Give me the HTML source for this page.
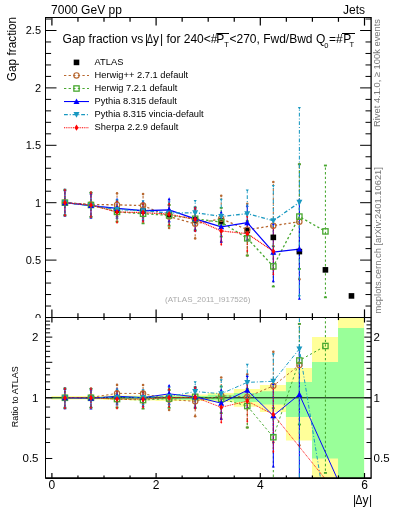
<!DOCTYPE html><html><head><meta charset="utf-8"><style>html,body{margin:0;padding:0;background:#fff;width:393px;height:512px;overflow:hidden}svg{display:block;will-change:transform}text{font-family:"Liberation Sans",sans-serif}</style></head><body>
<svg width="393" height="512" viewBox="0 0 393 512">
<rect width="393" height="512" fill="#fff"/>
<text x="51.1" y="14" font-size="12">7000 GeV pp</text>
<text x="365.1" y="14" font-size="12" text-anchor="end">Jets</text>
<path d="M51.50,396.00 L77.55,396.00 L77.55,396.00 L103.60,396.00 L103.60,395.50 L129.65,395.50 L129.65,395.50 L155.70,395.50 L155.70,395.00 L181.75,395.00 L181.75,394.50 L207.80,394.50 L207.80,393.10 L233.85,393.10 L233.85,389.10 L259.90,389.10 L259.90,385.10 L285.95,385.10 L285.95,368.00 L312.00,368.00 L312.00,337.10 L338.05,337.10 L338.05,317.50 L364.10,317.50 L364.10,479.00 L338.05,479.00 L338.05,479.00 L312.00,479.00 L312.00,440.60 L285.95,440.60 L285.95,412.00 L259.90,412.00 L259.90,406.70 L233.85,406.70 L233.85,402.00 L207.80,402.00 L207.80,401.00 L181.75,401.00 L181.75,401.00 L155.70,401.00 L155.70,400.50 L129.65,400.50 L129.65,400.00 L103.60,400.00 L103.60,399.50 L77.55,399.50 L77.55,399.50 L51.50,399.50Z" fill="#ffff99"/>
<path d="M51.50,397.00 L77.55,397.00 L77.55,397.00 L103.60,397.00 L103.60,396.80 L129.65,396.80 L129.65,396.50 L155.70,396.50 L155.70,396.20 L181.75,396.20 L181.75,396.00 L207.80,396.00 L207.80,394.70 L233.85,394.70 L233.85,393.10 L259.90,393.10 L259.90,391.20 L285.95,391.20 L285.95,382.00 L312.00,382.00 L312.00,362.00 L338.05,362.00 L338.05,327.90 L364.10,327.90 L364.10,479.00 L338.05,479.00 L338.05,458.60 L312.00,458.60 L312.00,417.10 L285.95,417.10 L285.95,404.60 L259.90,404.60 L259.90,401.90 L233.85,401.90 L233.85,400.30 L207.80,400.30 L207.80,399.70 L181.75,399.70 L181.75,399.50 L155.70,399.50 L155.70,399.30 L129.65,399.30 L129.65,399.00 L103.60,399.00 L103.60,398.80 L77.55,398.80 L77.55,398.80 L51.50,398.80Z" fill="#99ff99"/>
<line x1="45.5" y1="397.8" x2="371.1" y2="397.8" stroke="#000" stroke-width="1"/>
<svg x="45.5" y="17.5" width="325.6" height="300.0" viewBox="45.5 17.5 325.6 300.0" overflow="hidden">
<line x1="64.92" y1="190.07" x2="64.92" y2="215.33" stroke="#b86830" stroke-width="1.05" stroke-dasharray="2.3,2.3" stroke-dashoffset="2.5999999999999996"/>
<circle cx="64.92" cy="190.07" r="1.3" fill="#b86830"/>
<circle cx="64.92" cy="215.33" r="1.3" fill="#b86830"/>
<line x1="90.97" y1="192.37" x2="90.97" y2="216.48" stroke="#b86830" stroke-width="1.05" stroke-dasharray="2.3,2.3" stroke-dashoffset="2.5999999999999996"/>
<circle cx="90.97" cy="192.37" r="1.3" fill="#b86830"/>
<circle cx="90.97" cy="216.48" r="1.3" fill="#b86830"/>
<line x1="117.03" y1="193.40" x2="117.03" y2="216.36" stroke="#b86830" stroke-width="1.05" stroke-dasharray="2.3,2.3" stroke-dashoffset="2.5999999999999996"/>
<circle cx="117.03" cy="193.40" r="1.3" fill="#b86830"/>
<circle cx="117.03" cy="216.36" r="1.3" fill="#b86830"/>
<line x1="143.07" y1="194.09" x2="143.07" y2="217.05" stroke="#b86830" stroke-width="1.05" stroke-dasharray="2.3,2.3" stroke-dashoffset="2.5999999999999996"/>
<circle cx="143.07" cy="194.09" r="1.3" fill="#b86830"/>
<circle cx="143.07" cy="217.05" r="1.3" fill="#b86830"/>
<line x1="169.12" y1="205.00" x2="169.12" y2="227.96" stroke="#b86830" stroke-width="1.05" stroke-dasharray="2.3,2.3" stroke-dashoffset="2.5999999999999996"/>
<circle cx="169.12" cy="205.00" r="1.3" fill="#b86830"/>
<circle cx="169.12" cy="227.96" r="1.3" fill="#b86830"/>
<line x1="195.18" y1="209.24" x2="195.18" y2="238.40" stroke="#b86830" stroke-width="1.05" stroke-dasharray="2.3,2.3" stroke-dashoffset="2.5999999999999996"/>
<circle cx="195.18" cy="209.24" r="1.3" fill="#b86830"/>
<circle cx="195.18" cy="238.40" r="1.3" fill="#b86830"/>
<line x1="221.23" y1="195.81" x2="221.23" y2="241.73" stroke="#b86830" stroke-width="1.05" stroke-dasharray="2.3,2.3" stroke-dashoffset="2.5999999999999996"/>
<circle cx="221.23" cy="195.81" r="1.3" fill="#b86830"/>
<circle cx="221.23" cy="241.73" r="1.3" fill="#b86830"/>
<line x1="247.28" y1="203.85" x2="247.28" y2="255.51" stroke="#b86830" stroke-width="1.05" stroke-dasharray="2.3,2.3" stroke-dashoffset="2.5999999999999996"/>
<circle cx="247.28" cy="203.85" r="1.3" fill="#b86830"/>
<circle cx="247.28" cy="255.51" r="1.3" fill="#b86830"/>
<line x1="273.32" y1="182.04" x2="273.32" y2="269.28" stroke="#b86830" stroke-width="1.05" stroke-dasharray="2.3,2.3" stroke-dashoffset="2.5999999999999996"/>
<circle cx="273.32" cy="182.04" r="1.3" fill="#b86830"/>
<circle cx="273.32" cy="269.28" r="1.3" fill="#b86830"/>
<line x1="299.38" y1="164.36" x2="299.38" y2="279.16" stroke="#b86830" stroke-width="1.05" stroke-dasharray="2.3,2.3" stroke-dashoffset="2.5999999999999996"/>
<circle cx="299.38" cy="164.36" r="1.3" fill="#b86830"/>
<circle cx="299.38" cy="279.16" r="1.3" fill="#b86830"/>
<line x1="64.92" y1="190.07" x2="64.92" y2="215.33" stroke="#48a830" stroke-width="1.05" stroke-dasharray="2.3,2.3" stroke-dashoffset="2.5999999999999996"/>
<rect x="63.42" y="189.17" width="3" height="1.8" fill="#48a830"/>
<rect x="63.42" y="214.43" width="3" height="1.8" fill="#48a830"/>
<line x1="90.97" y1="192.94" x2="90.97" y2="217.05" stroke="#48a830" stroke-width="1.05" stroke-dasharray="2.3,2.3" stroke-dashoffset="2.5999999999999996"/>
<rect x="89.47" y="192.04" width="3" height="1.8" fill="#48a830"/>
<rect x="89.47" y="216.15" width="3" height="1.8" fill="#48a830"/>
<line x1="117.03" y1="202.13" x2="117.03" y2="221.64" stroke="#48a830" stroke-width="1.05" stroke-dasharray="2.3,2.3" stroke-dashoffset="2.5999999999999996"/>
<rect x="115.53" y="201.23" width="3" height="1.8" fill="#48a830"/>
<rect x="115.53" y="220.74" width="3" height="1.8" fill="#48a830"/>
<line x1="143.07" y1="204.08" x2="143.07" y2="223.36" stroke="#48a830" stroke-width="1.05" stroke-dasharray="2.3,2.3" stroke-dashoffset="2.5999999999999996"/>
<rect x="141.57" y="203.18" width="3" height="1.8" fill="#48a830"/>
<rect x="141.57" y="222.46" width="3" height="1.8" fill="#48a830"/>
<line x1="169.12" y1="205.00" x2="169.12" y2="225.66" stroke="#48a830" stroke-width="1.05" stroke-dasharray="2.3,2.3" stroke-dashoffset="2.5999999999999996"/>
<rect x="167.62" y="204.10" width="3" height="1.8" fill="#48a830"/>
<rect x="167.62" y="224.76" width="3" height="1.8" fill="#48a830"/>
<line x1="195.18" y1="207.29" x2="195.18" y2="230.25" stroke="#48a830" stroke-width="1.05" stroke-dasharray="2.3,2.3" stroke-dashoffset="2.5999999999999996"/>
<rect x="193.68" y="206.39" width="3" height="1.8" fill="#48a830"/>
<rect x="193.68" y="229.35" width="3" height="1.8" fill="#48a830"/>
<line x1="221.23" y1="207.87" x2="221.23" y2="236.57" stroke="#48a830" stroke-width="1.05" stroke-dasharray="2.3,2.3" stroke-dashoffset="2.5999999999999996"/>
<rect x="219.73" y="206.97" width="3" height="1.8" fill="#48a830"/>
<rect x="219.73" y="235.67" width="3" height="1.8" fill="#48a830"/>
<line x1="247.28" y1="221.07" x2="247.28" y2="255.51" stroke="#48a830" stroke-width="1.05" stroke-dasharray="2.3,2.3" stroke-dashoffset="2.5999999999999996"/>
<rect x="245.78" y="220.17" width="3" height="1.8" fill="#48a830"/>
<rect x="245.78" y="254.61" width="3" height="1.8" fill="#48a830"/>
<line x1="273.32" y1="246.32" x2="273.32" y2="286.50" stroke="#48a830" stroke-width="1.05" stroke-dasharray="2.3,2.3" stroke-dashoffset="2.5999999999999996"/>
<rect x="271.82" y="245.42" width="3" height="1.8" fill="#48a830"/>
<rect x="271.82" y="285.60" width="3" height="1.8" fill="#48a830"/>
<line x1="299.38" y1="164.24" x2="299.38" y2="268.94" stroke="#48a830" stroke-width="1.05" stroke-dasharray="2.3,2.3" stroke-dashoffset="2.5999999999999996"/>
<rect x="297.88" y="163.34" width="3" height="1.8" fill="#48a830"/>
<rect x="297.88" y="268.04" width="3" height="1.8" fill="#48a830"/>
<line x1="325.43" y1="165.50" x2="325.43" y2="297.30" stroke="#48a830" stroke-width="1.05" stroke-dasharray="2.3,2.3" stroke-dashoffset="2.5999999999999996"/>
<rect x="323.93" y="164.60" width="3" height="1.8" fill="#48a830"/>
<rect x="323.93" y="296.40" width="3" height="1.8" fill="#48a830"/>
<line x1="64.92" y1="190.07" x2="64.92" y2="215.33" stroke="#0000ff" stroke-width="1.05"/>
<path d="M64.92,188.52L66.42,191.32L63.42,191.32Z" fill="#0000ff"/>
<path d="M64.92,213.78L66.42,216.58L63.42,216.58Z" fill="#0000ff"/>
<line x1="90.97" y1="193.52" x2="90.97" y2="217.62" stroke="#0000ff" stroke-width="1.05"/>
<path d="M90.97,191.97L92.47,194.77L89.47,194.77Z" fill="#0000ff"/>
<path d="M90.97,216.07L92.47,218.87L89.47,218.87Z" fill="#0000ff"/>
<line x1="117.03" y1="199.26" x2="117.03" y2="217.62" stroke="#0000ff" stroke-width="1.05"/>
<path d="M117.03,197.71L118.53,200.51L115.53,200.51Z" fill="#0000ff"/>
<path d="M117.03,216.07L118.53,218.87L115.53,218.87Z" fill="#0000ff"/>
<line x1="143.07" y1="201.55" x2="143.07" y2="219.92" stroke="#0000ff" stroke-width="1.05"/>
<path d="M143.07,200.00L144.57,202.80L141.57,202.80Z" fill="#0000ff"/>
<path d="M143.07,218.37L144.57,221.17L141.57,221.17Z" fill="#0000ff"/>
<line x1="169.12" y1="198.91" x2="169.12" y2="220.72" stroke="#0000ff" stroke-width="1.05"/>
<path d="M169.12,197.36L170.62,200.16L167.62,200.16Z" fill="#0000ff"/>
<path d="M169.12,219.17L170.62,221.97L167.62,221.97Z" fill="#0000ff"/>
<line x1="195.18" y1="207.29" x2="195.18" y2="230.25" stroke="#0000ff" stroke-width="1.05"/>
<path d="M195.18,205.74L196.68,208.54L193.68,208.54Z" fill="#0000ff"/>
<path d="M195.18,228.70L196.68,231.50L193.68,231.50Z" fill="#0000ff"/>
<line x1="221.23" y1="212.23" x2="221.23" y2="241.39" stroke="#0000ff" stroke-width="1.05"/>
<path d="M221.23,210.68L222.73,213.48L219.73,213.48Z" fill="#0000ff"/>
<path d="M221.23,239.84L222.73,242.64L219.73,242.64Z" fill="#0000ff"/>
<line x1="247.28" y1="205.46" x2="247.28" y2="239.90" stroke="#0000ff" stroke-width="1.05"/>
<path d="M247.28,203.91L248.78,206.71L245.78,206.71Z" fill="#0000ff"/>
<path d="M247.28,238.35L248.78,241.15L245.78,241.15Z" fill="#0000ff"/>
<line x1="273.32" y1="223.48" x2="273.32" y2="280.88" stroke="#0000ff" stroke-width="1.05"/>
<path d="M273.32,221.93L274.82,224.73L271.82,224.73Z" fill="#0000ff"/>
<path d="M273.32,279.33L274.82,282.13L271.82,282.13Z" fill="#0000ff"/>
<line x1="299.38" y1="199.72" x2="299.38" y2="298.44" stroke="#0000ff" stroke-width="1.05"/>
<path d="M299.38,198.17L300.88,200.97L297.88,200.97Z" fill="#0000ff"/>
<path d="M299.38,296.89L300.88,299.69L297.88,299.69Z" fill="#0000ff"/>
<line x1="64.92" y1="190.07" x2="64.92" y2="215.33" stroke="#1898c0" stroke-width="1.05" stroke-dasharray="3.8,1.9,1,1.9" stroke-dashoffset="4.1"/>
<path d="M64.92,191.62L66.42,188.82L63.42,188.82Z" fill="#1898c0"/>
<path d="M64.92,216.88L66.42,214.08L63.42,214.08Z" fill="#1898c0"/>
<line x1="90.97" y1="193.52" x2="90.97" y2="217.62" stroke="#1898c0" stroke-width="1.05" stroke-dasharray="3.8,1.9,1,1.9" stroke-dashoffset="4.1"/>
<path d="M90.97,195.07L92.47,192.27L89.47,192.27Z" fill="#1898c0"/>
<path d="M90.97,219.17L92.47,216.37L89.47,216.37Z" fill="#1898c0"/>
<line x1="117.03" y1="200.40" x2="117.03" y2="218.77" stroke="#1898c0" stroke-width="1.05" stroke-dasharray="3.8,1.9,1,1.9" stroke-dashoffset="4.1"/>
<path d="M117.03,201.95L118.53,199.15L115.53,199.15Z" fill="#1898c0"/>
<path d="M117.03,220.32L118.53,217.52L115.53,217.52Z" fill="#1898c0"/>
<line x1="143.07" y1="201.55" x2="143.07" y2="219.92" stroke="#1898c0" stroke-width="1.05" stroke-dasharray="3.8,1.9,1,1.9" stroke-dashoffset="4.1"/>
<path d="M143.07,203.10L144.57,200.30L141.57,200.30Z" fill="#1898c0"/>
<path d="M143.07,221.47L144.57,218.67L141.57,218.67Z" fill="#1898c0"/>
<line x1="169.12" y1="202.70" x2="169.12" y2="223.36" stroke="#1898c0" stroke-width="1.05" stroke-dasharray="3.8,1.9,1,1.9" stroke-dashoffset="4.1"/>
<path d="M169.12,204.25L170.62,201.45L167.62,201.45Z" fill="#1898c0"/>
<path d="M169.12,224.91L170.62,222.11L167.62,222.11Z" fill="#1898c0"/>
<line x1="195.18" y1="201.21" x2="195.18" y2="224.17" stroke="#1898c0" stroke-width="1.05" stroke-dasharray="3.8,1.9,1,1.9" stroke-dashoffset="4.1"/>
<path d="M195.18,202.76L196.68,199.96L193.68,199.96Z" fill="#1898c0"/>
<path d="M195.18,225.72L196.68,222.92L193.68,222.92Z" fill="#1898c0"/>
<line x1="221.23" y1="199.94" x2="221.23" y2="233.01" stroke="#1898c0" stroke-width="1.05" stroke-dasharray="3.8,1.9,1,1.9" stroke-dashoffset="4.1"/>
<path d="M221.23,201.49L222.73,198.69L219.73,198.69Z" fill="#1898c0"/>
<path d="M221.23,234.56L222.73,231.76L219.73,231.76Z" fill="#1898c0"/>
<line x1="247.28" y1="190.76" x2="247.28" y2="236.68" stroke="#1898c0" stroke-width="1.05" stroke-dasharray="3.8,1.9,1,1.9" stroke-dashoffset="4.1"/>
<path d="M247.28,192.31L248.78,189.51L245.78,189.51Z" fill="#1898c0"/>
<path d="M247.28,238.23L248.78,235.43L245.78,235.43Z" fill="#1898c0"/>
<line x1="273.32" y1="186.28" x2="273.32" y2="255.16" stroke="#1898c0" stroke-width="1.05" stroke-dasharray="3.8,1.9,1,1.9" stroke-dashoffset="4.1"/>
<path d="M273.32,187.83L274.82,185.03L271.82,185.03Z" fill="#1898c0"/>
<path d="M273.32,256.71L274.82,253.91L271.82,253.91Z" fill="#1898c0"/>
<line x1="299.38" y1="108.22" x2="299.38" y2="296.49" stroke="#1898c0" stroke-width="1.05" stroke-dasharray="3.8,1.9,1,1.9" stroke-dashoffset="4.1"/>
<path d="M299.38,109.77L300.88,106.97L297.88,106.97Z" fill="#1898c0"/>
<path d="M299.38,298.04L300.88,295.24L297.88,295.24Z" fill="#1898c0"/>
<line x1="64.92" y1="190.07" x2="64.92" y2="215.33" stroke="#ff0000" stroke-width="1.05" stroke-dasharray="1,0.8" stroke-dashoffset="1.3"/>
<path d="M64.92,188.52L65.92,190.07L64.92,191.62L63.92,190.07Z" fill="#ff0000"/>
<path d="M64.92,213.78L65.92,215.33L64.92,216.88L63.92,215.33Z" fill="#ff0000"/>
<line x1="90.97" y1="192.94" x2="90.97" y2="217.05" stroke="#ff0000" stroke-width="1.05" stroke-dasharray="1,0.8" stroke-dashoffset="1.3"/>
<path d="M90.97,191.39L91.97,192.94L90.97,194.49L89.97,192.94Z" fill="#ff0000"/>
<path d="M90.97,215.50L91.97,217.05L90.97,218.60L89.97,217.05Z" fill="#ff0000"/>
<line x1="117.03" y1="201.67" x2="117.03" y2="222.33" stroke="#ff0000" stroke-width="1.05" stroke-dasharray="1,0.8" stroke-dashoffset="1.3"/>
<path d="M117.03,200.12L118.03,201.67L117.03,203.22L116.03,201.67Z" fill="#ff0000"/>
<path d="M117.03,220.78L118.03,222.33L117.03,223.88L116.03,222.33Z" fill="#ff0000"/>
<line x1="143.07" y1="203.39" x2="143.07" y2="221.76" stroke="#ff0000" stroke-width="1.05" stroke-dasharray="1,0.8" stroke-dashoffset="1.3"/>
<path d="M143.07,201.84L144.07,203.39L143.07,204.94L142.07,203.39Z" fill="#ff0000"/>
<path d="M143.07,220.21L144.07,221.76L143.07,223.31L142.07,221.76Z" fill="#ff0000"/>
<line x1="169.12" y1="203.85" x2="169.12" y2="224.51" stroke="#ff0000" stroke-width="1.05" stroke-dasharray="1,0.8" stroke-dashoffset="1.3"/>
<path d="M169.12,202.30L170.12,203.85L169.12,205.40L168.12,203.85Z" fill="#ff0000"/>
<path d="M169.12,222.96L170.12,224.51L169.12,226.06L168.12,224.51Z" fill="#ff0000"/>
<line x1="195.18" y1="207.98" x2="195.18" y2="230.94" stroke="#ff0000" stroke-width="1.05" stroke-dasharray="1,0.8" stroke-dashoffset="1.3"/>
<path d="M195.18,206.43L196.18,207.98L195.18,209.53L194.18,207.98Z" fill="#ff0000"/>
<path d="M195.18,229.39L196.18,230.94L195.18,232.49L194.18,230.94Z" fill="#ff0000"/>
<line x1="221.23" y1="217.39" x2="221.23" y2="244.49" stroke="#ff0000" stroke-width="1.05" stroke-dasharray="1,0.8" stroke-dashoffset="1.3"/>
<path d="M221.23,215.84L222.23,217.39L221.23,218.94L220.23,217.39Z" fill="#ff0000"/>
<path d="M221.23,242.94L222.23,244.49L221.23,246.04L220.23,244.49Z" fill="#ff0000"/>
<line x1="247.28" y1="216.48" x2="247.28" y2="250.92" stroke="#ff0000" stroke-width="1.05" stroke-dasharray="1,0.8" stroke-dashoffset="1.3"/>
<path d="M247.28,214.93L248.28,216.48L247.28,218.03L246.28,216.48Z" fill="#ff0000"/>
<path d="M247.28,249.37L248.28,250.92L247.28,252.47L246.28,250.92Z" fill="#ff0000"/>
<line x1="273.32" y1="228.30" x2="273.32" y2="274.22" stroke="#ff0000" stroke-width="1.05" stroke-dasharray="1,0.8" stroke-dashoffset="1.3"/>
<path d="M273.32,226.75L274.32,228.30L273.32,229.85L272.32,228.30Z" fill="#ff0000"/>
<path d="M273.32,272.67L274.32,274.22L273.32,275.77L272.32,274.22Z" fill="#ff0000"/>
<path d="M64.92,202.70 L90.97,204.42 L117.03,204.88 L143.07,205.57 L169.12,216.48 L195.18,223.82 L221.23,218.77 L247.28,229.68 L273.32,225.66 L299.38,221.76" fill="none" stroke="#b86830" stroke-width="1.3" stroke-dasharray="2.3,2.3"/>
<path d="M64.92,202.70 L90.97,205.00 L117.03,211.88 L143.07,213.72 L169.12,215.33 L195.18,218.77 L221.23,222.22 L247.28,238.29 L273.32,266.41 L299.38,216.59 L325.43,231.40" fill="none" stroke="#48a830" stroke-width="1.3" stroke-dasharray="2.3,2.3"/>
<path d="M64.92,202.70 L90.97,205.57 L117.03,208.44 L143.07,210.74 L169.12,209.82 L195.18,218.77 L221.23,226.81 L247.28,222.68 L273.32,252.18 L299.38,249.08" fill="none" stroke="#0000ff" stroke-width="1.3"/>
<path d="M64.92,202.70 L90.97,205.57 L117.03,209.59 L143.07,210.74 L169.12,213.03 L195.18,212.69 L221.23,216.48 L247.28,213.72 L273.32,220.72 L299.38,202.36" fill="none" stroke="#1898c0" stroke-width="1.3" stroke-dasharray="3.8,1.9,1,1.9"/>
<path d="M64.92,202.70 L90.97,205.00 L117.03,212.00 L143.07,212.57 L169.12,214.18 L195.18,219.46 L221.23,230.94 L247.28,233.70 L273.32,251.26" fill="none" stroke="#ff0000" stroke-width="1.2" stroke-dasharray="1,0.8"/>
<rect x="62.12" y="199.90" width="5.60" height="5.60" fill="#000"/>
<rect x="88.17" y="202.20" width="5.60" height="5.60" fill="#000"/>
<rect x="114.23" y="207.59" width="5.60" height="5.60" fill="#000"/>
<rect x="140.27" y="208.17" width="5.60" height="5.60" fill="#000"/>
<rect x="166.32" y="211.72" width="5.60" height="5.60" fill="#000"/>
<rect x="192.38" y="217.12" width="5.60" height="5.60" fill="#000"/>
<rect x="218.43" y="218.27" width="5.60" height="5.60" fill="#000"/>
<rect x="244.47" y="227.68" width="5.60" height="5.60" fill="#000"/>
<rect x="270.52" y="234.57" width="5.60" height="5.60" fill="#000"/>
<rect x="296.57" y="248.80" width="5.60" height="5.60" fill="#000"/>
<rect x="322.62" y="267.06" width="5.60" height="5.60" fill="#000"/>
<rect x="348.67" y="293.12" width="5.60" height="5.60" fill="#000"/>
<circle cx="64.92" cy="202.70" r="2.65" fill="none" stroke="#b86830" stroke-width="1.15"/>
<circle cx="90.97" cy="204.42" r="2.65" fill="none" stroke="#b86830" stroke-width="1.15"/>
<circle cx="117.03" cy="204.88" r="2.65" fill="none" stroke="#b86830" stroke-width="1.15"/>
<circle cx="143.07" cy="205.57" r="2.65" fill="none" stroke="#b86830" stroke-width="1.15"/>
<circle cx="169.12" cy="216.48" r="2.65" fill="none" stroke="#b86830" stroke-width="1.15"/>
<circle cx="195.18" cy="223.82" r="2.65" fill="none" stroke="#b86830" stroke-width="1.15"/>
<circle cx="221.23" cy="218.77" r="2.65" fill="none" stroke="#b86830" stroke-width="1.15"/>
<circle cx="247.28" cy="229.68" r="2.65" fill="none" stroke="#b86830" stroke-width="1.15"/>
<circle cx="273.32" cy="225.66" r="2.65" fill="none" stroke="#b86830" stroke-width="1.15"/>
<circle cx="299.38" cy="221.76" r="2.65" fill="none" stroke="#b86830" stroke-width="1.15"/>
<rect x="62.27" y="200.05" width="5.30" height="5.30" fill="none" stroke="#48a830" stroke-width="1.3"/>
<rect x="88.32" y="202.35" width="5.30" height="5.30" fill="none" stroke="#48a830" stroke-width="1.3"/>
<rect x="114.38" y="209.23" width="5.30" height="5.30" fill="none" stroke="#48a830" stroke-width="1.3"/>
<rect x="140.42" y="211.07" width="5.30" height="5.30" fill="none" stroke="#48a830" stroke-width="1.3"/>
<rect x="166.47" y="212.68" width="5.30" height="5.30" fill="none" stroke="#48a830" stroke-width="1.3"/>
<rect x="192.53" y="216.12" width="5.30" height="5.30" fill="none" stroke="#48a830" stroke-width="1.3"/>
<rect x="218.58" y="219.57" width="5.30" height="5.30" fill="none" stroke="#48a830" stroke-width="1.3"/>
<rect x="244.62" y="235.64" width="5.30" height="5.30" fill="none" stroke="#48a830" stroke-width="1.3"/>
<rect x="270.68" y="263.76" width="5.30" height="5.30" fill="none" stroke="#48a830" stroke-width="1.3"/>
<rect x="296.73" y="213.94" width="5.30" height="5.30" fill="none" stroke="#48a830" stroke-width="1.3"/>
<rect x="322.78" y="228.75" width="5.30" height="5.30" fill="none" stroke="#48a830" stroke-width="1.3"/>
<path d="M64.92,199.60L67.92,205.20L61.92,205.20Z" fill="#0000ff"/>
<path d="M90.97,202.47L93.97,208.07L87.97,208.07Z" fill="#0000ff"/>
<path d="M117.03,205.34L120.03,210.94L114.03,210.94Z" fill="#0000ff"/>
<path d="M143.07,207.64L146.07,213.24L140.07,213.24Z" fill="#0000ff"/>
<path d="M169.12,206.72L172.12,212.32L166.12,212.32Z" fill="#0000ff"/>
<path d="M195.18,215.67L198.18,221.27L192.18,221.27Z" fill="#0000ff"/>
<path d="M221.23,223.71L224.23,229.31L218.23,229.31Z" fill="#0000ff"/>
<path d="M247.28,219.58L250.28,225.18L244.28,225.18Z" fill="#0000ff"/>
<path d="M273.32,249.08L276.32,254.68L270.32,254.68Z" fill="#0000ff"/>
<path d="M299.38,245.98L302.38,251.58L296.38,251.58Z" fill="#0000ff"/>
<path d="M64.92,205.80L67.92,200.20L61.92,200.20Z" fill="#1898c0"/>
<path d="M90.97,208.67L93.97,203.07L87.97,203.07Z" fill="#1898c0"/>
<path d="M117.03,212.69L120.03,207.09L114.03,207.09Z" fill="#1898c0"/>
<path d="M143.07,213.84L146.07,208.24L140.07,208.24Z" fill="#1898c0"/>
<path d="M169.12,216.13L172.12,210.53L166.12,210.53Z" fill="#1898c0"/>
<path d="M195.18,215.79L198.18,210.19L192.18,210.19Z" fill="#1898c0"/>
<path d="M221.23,219.58L224.23,213.98L218.23,213.98Z" fill="#1898c0"/>
<path d="M247.28,216.82L250.28,211.22L244.28,211.22Z" fill="#1898c0"/>
<path d="M273.32,223.82L276.32,218.22L270.32,218.22Z" fill="#1898c0"/>
<path d="M299.38,205.46L302.38,199.86L296.38,199.86Z" fill="#1898c0"/>
<path d="M64.92,199.60L66.92,202.70L64.92,205.80L62.92,202.70Z" fill="#ff0000"/>
<path d="M90.97,201.90L92.97,205.00L90.97,208.10L88.97,205.00Z" fill="#ff0000"/>
<path d="M117.03,208.90L119.03,212.00L117.03,215.10L115.03,212.00Z" fill="#ff0000"/>
<path d="M143.07,209.47L145.07,212.57L143.07,215.67L141.07,212.57Z" fill="#ff0000"/>
<path d="M169.12,211.08L171.12,214.18L169.12,217.28L167.12,214.18Z" fill="#ff0000"/>
<path d="M195.18,216.36L197.18,219.46L195.18,222.56L193.18,219.46Z" fill="#ff0000"/>
<path d="M221.23,227.84L223.23,230.94L221.23,234.04L219.23,230.94Z" fill="#ff0000"/>
<path d="M247.28,230.60L249.28,233.70L247.28,236.80L245.28,233.70Z" fill="#ff0000"/>
<path d="M273.32,248.16L275.32,251.26L273.32,254.36L271.32,251.26Z" fill="#ff0000"/>
</svg>
<svg x="45.5" y="317.5" width="325.6" height="160.5" viewBox="45.5 317.5 325.6 160.5" overflow="hidden">
<line x1="64.92" y1="388.66" x2="64.92" y2="408.00" stroke="#b86830" stroke-width="1.05" stroke-dasharray="2.3,2.3" stroke-dashoffset="2.5999999999999996"/>
<circle cx="64.92" cy="388.66" r="1.3" fill="#b86830"/>
<circle cx="64.92" cy="408.00" r="1.3" fill="#b86830"/>
<line x1="90.97" y1="388.49" x2="90.97" y2="407.22" stroke="#b86830" stroke-width="1.05" stroke-dasharray="2.3,2.3" stroke-dashoffset="2.5999999999999996"/>
<circle cx="90.97" cy="388.49" r="1.3" fill="#b86830"/>
<circle cx="90.97" cy="407.22" r="1.3" fill="#b86830"/>
<line x1="117.03" y1="384.91" x2="117.03" y2="402.82" stroke="#b86830" stroke-width="1.05" stroke-dasharray="2.3,2.3" stroke-dashoffset="2.5999999999999996"/>
<circle cx="117.03" cy="384.91" r="1.3" fill="#b86830"/>
<circle cx="117.03" cy="402.82" r="1.3" fill="#b86830"/>
<line x1="143.07" y1="384.93" x2="143.07" y2="402.95" stroke="#b86830" stroke-width="1.05" stroke-dasharray="2.3,2.3" stroke-dashoffset="2.5999999999999996"/>
<circle cx="143.07" cy="384.93" r="1.3" fill="#b86830"/>
<circle cx="143.07" cy="402.95" r="1.3" fill="#b86830"/>
<line x1="169.12" y1="390.05" x2="169.12" y2="410.04" stroke="#b86830" stroke-width="1.05" stroke-dasharray="2.3,2.3" stroke-dashoffset="2.5999999999999996"/>
<circle cx="169.12" cy="390.05" r="1.3" fill="#b86830"/>
<circle cx="169.12" cy="410.04" r="1.3" fill="#b86830"/>
<line x1="195.18" y1="388.71" x2="195.18" y2="416.19" stroke="#b86830" stroke-width="1.05" stroke-dasharray="2.3,2.3" stroke-dashoffset="2.5999999999999996"/>
<circle cx="195.18" cy="388.71" r="1.3" fill="#b86830"/>
<circle cx="195.18" cy="416.19" r="1.3" fill="#b86830"/>
<line x1="221.23" y1="377.43" x2="221.23" y2="418.91" stroke="#b86830" stroke-width="1.05" stroke-dasharray="2.3,2.3" stroke-dashoffset="2.5999999999999996"/>
<circle cx="221.23" cy="377.43" r="1.3" fill="#b86830"/>
<circle cx="221.23" cy="418.91" r="1.3" fill="#b86830"/>
<line x1="247.28" y1="374.42" x2="247.28" y2="427.49" stroke="#b86830" stroke-width="1.05" stroke-dasharray="2.3,2.3" stroke-dashoffset="2.5999999999999996"/>
<circle cx="247.28" cy="374.42" r="1.3" fill="#b86830"/>
<circle cx="247.28" cy="427.49" r="1.3" fill="#b86830"/>
<line x1="273.32" y1="351.83" x2="273.32" y2="442.27" stroke="#b86830" stroke-width="1.05" stroke-dasharray="2.3,2.3" stroke-dashoffset="2.5999999999999996"/>
<circle cx="273.32" cy="351.83" r="1.3" fill="#b86830"/>
<circle cx="273.32" cy="442.27" r="1.3" fill="#b86830"/>
<line x1="299.38" y1="323.97" x2="299.38" y2="445.21" stroke="#b86830" stroke-width="1.05" stroke-dasharray="2.3,2.3" stroke-dashoffset="2.5999999999999996"/>
<circle cx="299.38" cy="323.97" r="1.3" fill="#b86830"/>
<circle cx="299.38" cy="445.21" r="1.3" fill="#b86830"/>
<line x1="64.92" y1="388.66" x2="64.92" y2="408.00" stroke="#48a830" stroke-width="1.05" stroke-dasharray="2.3,2.3" stroke-dashoffset="2.5999999999999996"/>
<rect x="63.42" y="387.76" width="3" height="1.8" fill="#48a830"/>
<rect x="63.42" y="407.10" width="3" height="1.8" fill="#48a830"/>
<line x1="90.97" y1="388.89" x2="90.97" y2="407.72" stroke="#48a830" stroke-width="1.05" stroke-dasharray="2.3,2.3" stroke-dashoffset="2.5999999999999996"/>
<rect x="89.47" y="387.99" width="3" height="1.8" fill="#48a830"/>
<rect x="89.47" y="406.82" width="3" height="1.8" fill="#48a830"/>
<line x1="117.03" y1="391.29" x2="117.03" y2="407.52" stroke="#48a830" stroke-width="1.05" stroke-dasharray="2.3,2.3" stroke-dashoffset="2.5999999999999996"/>
<rect x="115.53" y="390.39" width="3" height="1.8" fill="#48a830"/>
<rect x="115.53" y="406.62" width="3" height="1.8" fill="#48a830"/>
<line x1="143.07" y1="392.31" x2="143.07" y2="408.63" stroke="#48a830" stroke-width="1.05" stroke-dasharray="2.3,2.3" stroke-dashoffset="2.5999999999999996"/>
<rect x="141.57" y="391.41" width="3" height="1.8" fill="#48a830"/>
<rect x="141.57" y="407.73" width="3" height="1.8" fill="#48a830"/>
<line x1="169.12" y1="390.05" x2="169.12" y2="407.82" stroke="#48a830" stroke-width="1.05" stroke-dasharray="2.3,2.3" stroke-dashoffset="2.5999999999999996"/>
<rect x="167.62" y="389.15" width="3" height="1.8" fill="#48a830"/>
<rect x="167.62" y="406.92" width="3" height="1.8" fill="#48a830"/>
<line x1="195.18" y1="387.14" x2="195.18" y2="407.60" stroke="#48a830" stroke-width="1.05" stroke-dasharray="2.3,2.3" stroke-dashoffset="2.5999999999999996"/>
<rect x="193.68" y="386.24" width="3" height="1.8" fill="#48a830"/>
<rect x="193.68" y="406.70" width="3" height="1.8" fill="#48a830"/>
<line x1="221.23" y1="386.57" x2="221.23" y2="413.14" stroke="#48a830" stroke-width="1.05" stroke-dasharray="2.3,2.3" stroke-dashoffset="2.5999999999999996"/>
<rect x="219.73" y="385.67" width="3" height="1.8" fill="#48a830"/>
<rect x="219.73" y="412.24" width="3" height="1.8" fill="#48a830"/>
<line x1="247.28" y1="388.81" x2="247.28" y2="427.49" stroke="#48a830" stroke-width="1.05" stroke-dasharray="2.3,2.3" stroke-dashoffset="2.5999999999999996"/>
<rect x="245.78" y="387.91" width="3" height="1.8" fill="#48a830"/>
<rect x="245.78" y="426.59" width="3" height="1.8" fill="#48a830"/>
<line x1="273.32" y1="408.18" x2="273.32" y2="480.96" stroke="#48a830" stroke-width="1.05" stroke-dasharray="2.3,2.3" stroke-dashoffset="2.5999999999999996"/>
<rect x="271.82" y="407.28" width="3" height="1.8" fill="#48a830"/>
<rect x="271.82" y="480.06" width="3" height="1.8" fill="#48a830"/>
<line x1="299.38" y1="323.90" x2="299.38" y2="424.53" stroke="#48a830" stroke-width="1.05" stroke-dasharray="2.3,2.3" stroke-dashoffset="2.5999999999999996"/>
<rect x="297.88" y="323.00" width="3" height="1.8" fill="#48a830"/>
<rect x="297.88" y="423.63" width="3" height="1.8" fill="#48a830"/>
<line x1="325.43" y1="296.23" x2="325.43" y2="472.90" stroke="#48a830" stroke-width="1.05" stroke-dasharray="2.3,2.3" stroke-dashoffset="2.5999999999999996"/>
<rect x="323.93" y="295.33" width="3" height="1.8" fill="#48a830"/>
<rect x="323.93" y="472.00" width="3" height="1.8" fill="#48a830"/>
<line x1="64.92" y1="388.66" x2="64.92" y2="408.00" stroke="#0000ff" stroke-width="1.05"/>
<path d="M64.92,387.11L66.42,389.91L63.42,389.91Z" fill="#0000ff"/>
<path d="M64.92,406.45L66.42,409.25L63.42,409.25Z" fill="#0000ff"/>
<line x1="90.97" y1="389.29" x2="90.97" y2="408.22" stroke="#0000ff" stroke-width="1.05"/>
<path d="M90.97,387.74L92.47,390.54L89.47,390.54Z" fill="#0000ff"/>
<path d="M90.97,406.67L92.47,409.47L89.47,409.47Z" fill="#0000ff"/>
<line x1="117.03" y1="389.14" x2="117.03" y2="403.92" stroke="#0000ff" stroke-width="1.05"/>
<path d="M117.03,387.59L118.53,390.39L115.53,390.39Z" fill="#0000ff"/>
<path d="M117.03,402.37L118.53,405.17L115.53,405.17Z" fill="#0000ff"/>
<line x1="143.07" y1="390.39" x2="143.07" y2="405.49" stroke="#0000ff" stroke-width="1.05"/>
<path d="M143.07,388.84L144.57,391.64L141.57,391.64Z" fill="#0000ff"/>
<path d="M143.07,403.94L144.57,406.74L141.57,406.74Z" fill="#0000ff"/>
<line x1="169.12" y1="385.44" x2="169.12" y2="403.24" stroke="#0000ff" stroke-width="1.05"/>
<path d="M169.12,383.89L170.62,386.69L167.62,386.69Z" fill="#0000ff"/>
<path d="M169.12,401.69L170.62,404.49L167.62,404.49Z" fill="#0000ff"/>
<line x1="195.18" y1="387.14" x2="195.18" y2="407.60" stroke="#0000ff" stroke-width="1.05"/>
<path d="M195.18,385.59L196.68,388.39L193.68,388.39Z" fill="#0000ff"/>
<path d="M195.18,406.05L196.68,408.85L193.68,408.85Z" fill="#0000ff"/>
<line x1="221.23" y1="390.12" x2="221.23" y2="418.52" stroke="#0000ff" stroke-width="1.05"/>
<path d="M221.23,388.57L222.73,391.37L219.73,391.37Z" fill="#0000ff"/>
<path d="M221.23,416.97L222.73,419.77L219.73,419.77Z" fill="#0000ff"/>
<line x1="247.28" y1="375.67" x2="247.28" y2="407.82" stroke="#0000ff" stroke-width="1.05"/>
<path d="M247.28,374.12L248.78,376.92L245.78,376.92Z" fill="#0000ff"/>
<path d="M247.28,406.27L248.78,409.07L245.78,409.07Z" fill="#0000ff"/>
<line x1="273.32" y1="383.80" x2="273.32" y2="466.36" stroke="#0000ff" stroke-width="1.05"/>
<path d="M273.32,382.25L274.82,385.05L271.82,385.05Z" fill="#0000ff"/>
<path d="M273.32,464.81L274.82,467.61L271.82,467.61Z" fill="#0000ff"/>
<line x1="299.38" y1="346.95" x2="299.38" y2="506.42" stroke="#0000ff" stroke-width="1.05"/>
<path d="M299.38,345.40L300.88,348.20L297.88,348.20Z" fill="#0000ff"/>
<path d="M299.38,504.87L300.88,507.67L297.88,507.67Z" fill="#0000ff"/>
<line x1="64.92" y1="388.66" x2="64.92" y2="408.00" stroke="#1898c0" stroke-width="1.05" stroke-dasharray="3.8,1.9,1,1.9" stroke-dashoffset="4.1"/>
<path d="M64.92,390.21L66.42,387.41L63.42,387.41Z" fill="#1898c0"/>
<path d="M64.92,409.55L66.42,406.75L63.42,406.75Z" fill="#1898c0"/>
<line x1="90.97" y1="389.29" x2="90.97" y2="408.22" stroke="#1898c0" stroke-width="1.05" stroke-dasharray="3.8,1.9,1,1.9" stroke-dashoffset="4.1"/>
<path d="M90.97,390.84L92.47,388.04L89.47,388.04Z" fill="#1898c0"/>
<path d="M90.97,409.77L92.47,406.97L89.47,406.97Z" fill="#1898c0"/>
<line x1="117.03" y1="389.99" x2="117.03" y2="404.93" stroke="#1898c0" stroke-width="1.05" stroke-dasharray="3.8,1.9,1,1.9" stroke-dashoffset="4.1"/>
<path d="M117.03,391.54L118.53,388.74L115.53,388.74Z" fill="#1898c0"/>
<path d="M117.03,406.48L118.53,403.68L115.53,403.68Z" fill="#1898c0"/>
<line x1="143.07" y1="390.39" x2="143.07" y2="405.49" stroke="#1898c0" stroke-width="1.05" stroke-dasharray="3.8,1.9,1,1.9" stroke-dashoffset="4.1"/>
<path d="M143.07,391.94L144.57,389.14L141.57,389.14Z" fill="#1898c0"/>
<path d="M143.07,407.04L144.57,404.24L141.57,404.24Z" fill="#1898c0"/>
<line x1="169.12" y1="388.28" x2="169.12" y2="405.66" stroke="#1898c0" stroke-width="1.05" stroke-dasharray="3.8,1.9,1,1.9" stroke-dashoffset="4.1"/>
<path d="M169.12,389.83L170.62,387.03L167.62,387.03Z" fill="#1898c0"/>
<path d="M169.12,407.21L170.62,404.41L167.62,404.41Z" fill="#1898c0"/>
<line x1="195.18" y1="382.44" x2="195.18" y2="401.70" stroke="#1898c0" stroke-width="1.05" stroke-dasharray="3.8,1.9,1,1.9" stroke-dashoffset="4.1"/>
<path d="M195.18,383.99L196.68,381.19L193.68,381.19Z" fill="#1898c0"/>
<path d="M195.18,403.25L196.68,400.45L193.68,400.45Z" fill="#1898c0"/>
<line x1="221.23" y1="380.46" x2="221.23" y2="409.37" stroke="#1898c0" stroke-width="1.05" stroke-dasharray="3.8,1.9,1,1.9" stroke-dashoffset="4.1"/>
<path d="M221.23,382.01L222.73,379.21L219.73,379.21Z" fill="#1898c0"/>
<path d="M221.23,410.92L222.73,408.12L219.73,408.12Z" fill="#1898c0"/>
<line x1="247.28" y1="364.88" x2="247.28" y2="404.27" stroke="#1898c0" stroke-width="1.05" stroke-dasharray="3.8,1.9,1,1.9" stroke-dashoffset="4.1"/>
<path d="M247.28,366.43L248.78,363.63L245.78,363.63Z" fill="#1898c0"/>
<path d="M247.28,405.82L248.78,403.02L245.78,403.02Z" fill="#1898c0"/>
<line x1="273.32" y1="354.62" x2="273.32" y2="419.79" stroke="#1898c0" stroke-width="1.05" stroke-dasharray="3.8,1.9,1,1.9" stroke-dashoffset="4.1"/>
<path d="M273.32,356.17L274.82,353.37L271.82,353.37Z" fill="#1898c0"/>
<path d="M273.32,421.34L274.82,418.54L271.82,418.54Z" fill="#1898c0"/>
<line x1="299.38" y1="296.62" x2="299.38" y2="497.89" stroke="#1898c0" stroke-width="1.05" stroke-dasharray="3.8,1.9,1,1.9" stroke-dashoffset="4.1"/>
<path d="M299.38,298.17L300.88,295.37L297.88,295.37Z" fill="#1898c0"/>
<path d="M299.38,499.44L300.88,496.64L297.88,496.64Z" fill="#1898c0"/>
<line x1="64.92" y1="388.66" x2="64.92" y2="408.00" stroke="#ff0000" stroke-width="1.05" stroke-dasharray="1,0.8" stroke-dashoffset="1.3"/>
<path d="M64.92,387.11L65.92,388.66L64.92,390.21L63.92,388.66Z" fill="#ff0000"/>
<path d="M64.92,406.45L65.92,408.00L64.92,409.55L63.92,408.00Z" fill="#ff0000"/>
<line x1="90.97" y1="388.89" x2="90.97" y2="407.72" stroke="#ff0000" stroke-width="1.05" stroke-dasharray="1,0.8" stroke-dashoffset="1.3"/>
<path d="M90.97,387.34L91.97,388.89L90.97,390.44L89.97,388.89Z" fill="#ff0000"/>
<path d="M90.97,406.17L91.97,407.72L90.97,409.27L89.97,407.72Z" fill="#ff0000"/>
<line x1="117.03" y1="390.94" x2="117.03" y2="408.15" stroke="#ff0000" stroke-width="1.05" stroke-dasharray="1,0.8" stroke-dashoffset="1.3"/>
<path d="M117.03,389.39L118.03,390.94L117.03,392.49L116.03,390.94Z" fill="#ff0000"/>
<path d="M117.03,406.60L118.03,408.15L117.03,409.70L116.03,408.15Z" fill="#ff0000"/>
<line x1="143.07" y1="391.78" x2="143.07" y2="407.15" stroke="#ff0000" stroke-width="1.05" stroke-dasharray="1,0.8" stroke-dashoffset="1.3"/>
<path d="M143.07,390.23L144.07,391.78L143.07,393.33L142.07,391.78Z" fill="#ff0000"/>
<path d="M143.07,405.60L144.07,407.15L143.07,408.70L142.07,407.15Z" fill="#ff0000"/>
<line x1="169.12" y1="389.16" x2="169.12" y2="406.73" stroke="#ff0000" stroke-width="1.05" stroke-dasharray="1,0.8" stroke-dashoffset="1.3"/>
<path d="M169.12,387.61L170.12,389.16L169.12,390.71L168.12,389.16Z" fill="#ff0000"/>
<path d="M169.12,405.18L170.12,406.73L169.12,408.28L168.12,406.73Z" fill="#ff0000"/>
<line x1="195.18" y1="387.69" x2="195.18" y2="408.29" stroke="#ff0000" stroke-width="1.05" stroke-dasharray="1,0.8" stroke-dashoffset="1.3"/>
<path d="M195.18,386.14L196.18,387.69L195.18,389.24L194.18,387.69Z" fill="#ff0000"/>
<path d="M195.18,406.74L196.18,408.29L195.18,409.84L194.18,408.29Z" fill="#ff0000"/>
<line x1="221.23" y1="394.53" x2="221.23" y2="422.16" stroke="#ff0000" stroke-width="1.05" stroke-dasharray="1,0.8" stroke-dashoffset="1.3"/>
<path d="M221.23,392.98L222.23,394.53L221.23,396.08L220.23,394.53Z" fill="#ff0000"/>
<path d="M221.23,420.61L222.23,422.16L221.23,423.71L220.23,422.16Z" fill="#ff0000"/>
<line x1="247.28" y1="384.73" x2="247.28" y2="421.23" stroke="#ff0000" stroke-width="1.05" stroke-dasharray="1,0.8" stroke-dashoffset="1.3"/>
<path d="M247.28,383.18L248.28,384.73L247.28,386.28L246.28,384.73Z" fill="#ff0000"/>
<path d="M247.28,419.68L248.28,421.23L247.28,422.78L246.28,421.23Z" fill="#ff0000"/>
<line x1="273.32" y1="388.41" x2="273.32" y2="451.73" stroke="#ff0000" stroke-width="1.05" stroke-dasharray="1,0.8" stroke-dashoffset="1.3"/>
<path d="M273.32,386.86L274.32,388.41L273.32,389.96L272.32,388.41Z" fill="#ff0000"/>
<path d="M273.32,450.18L274.32,451.73L273.32,453.28L272.32,451.73Z" fill="#ff0000"/>
<path d="M64.92,397.80 L90.97,397.35 L117.03,393.41 L143.07,393.47 L169.12,399.48 L195.18,401.37 L221.23,395.74 L247.28,397.00 L273.32,385.86 L299.38,365.09" fill="none" stroke="#b86830" stroke-width="0.9750000000000001" stroke-dasharray="2.3,2.3"/>
<path d="M64.92,397.80 L90.97,397.80 L117.03,399.03 L143.07,400.09 L169.12,398.49 L195.18,396.78 L221.23,398.85 L247.28,406.03 L273.32,437.21 L299.38,360.49 L325.43,345.99" fill="none" stroke="#48a830" stroke-width="0.9750000000000001" stroke-dasharray="2.3,2.3"/>
<path d="M64.92,397.80 L90.97,398.25 L117.03,396.22 L143.07,397.61 L169.12,393.89 L195.18,396.78 L221.23,403.17 L247.28,390.28 L273.32,415.69 L299.38,394.51 L346.40,499.00" fill="none" stroke="#0000ff" stroke-width="0.9750000000000001"/>
<path d="M64.92,397.80 L90.97,398.25 L117.03,397.15 L143.07,397.61 L169.12,396.54 L195.18,391.54 L221.23,393.73 L247.28,382.38 L273.32,381.27 L299.38,348.93 L324.00,499.50" fill="none" stroke="#1898c0" stroke-width="0.9750000000000001" stroke-dasharray="3.8,1.9,1,1.9"/>
<path d="M64.92,397.80 L90.97,397.80 L117.03,399.12 L143.07,399.13 L169.12,397.51 L195.18,397.39 L221.23,407.26 L247.28,401.10 L273.32,414.47 L340.90,498.40" fill="none" stroke="#ff0000" stroke-width="0.8999999999999999" stroke-dasharray="1,0.8"/>
<circle cx="64.92" cy="397.80" r="2.65" fill="none" stroke="#b86830" stroke-width="1.15"/>
<circle cx="90.97" cy="397.35" r="2.65" fill="none" stroke="#b86830" stroke-width="1.15"/>
<circle cx="117.03" cy="393.41" r="2.65" fill="none" stroke="#b86830" stroke-width="1.15"/>
<circle cx="143.07" cy="393.47" r="2.65" fill="none" stroke="#b86830" stroke-width="1.15"/>
<circle cx="169.12" cy="399.48" r="2.65" fill="none" stroke="#b86830" stroke-width="1.15"/>
<circle cx="195.18" cy="401.37" r="2.65" fill="none" stroke="#b86830" stroke-width="1.15"/>
<circle cx="221.23" cy="395.74" r="2.65" fill="none" stroke="#b86830" stroke-width="1.15"/>
<circle cx="247.28" cy="397.00" r="2.65" fill="none" stroke="#b86830" stroke-width="1.15"/>
<circle cx="273.32" cy="385.86" r="2.65" fill="none" stroke="#b86830" stroke-width="1.15"/>
<circle cx="299.38" cy="365.09" r="2.65" fill="none" stroke="#b86830" stroke-width="1.15"/>
<rect x="62.27" y="395.15" width="5.30" height="5.30" fill="none" stroke="#48a830" stroke-width="1.3"/>
<rect x="88.32" y="395.15" width="5.30" height="5.30" fill="none" stroke="#48a830" stroke-width="1.3"/>
<rect x="114.38" y="396.38" width="5.30" height="5.30" fill="none" stroke="#48a830" stroke-width="1.3"/>
<rect x="140.42" y="397.44" width="5.30" height="5.30" fill="none" stroke="#48a830" stroke-width="1.3"/>
<rect x="166.47" y="395.84" width="5.30" height="5.30" fill="none" stroke="#48a830" stroke-width="1.3"/>
<rect x="192.53" y="394.13" width="5.30" height="5.30" fill="none" stroke="#48a830" stroke-width="1.3"/>
<rect x="218.58" y="396.20" width="5.30" height="5.30" fill="none" stroke="#48a830" stroke-width="1.3"/>
<rect x="244.62" y="403.38" width="5.30" height="5.30" fill="none" stroke="#48a830" stroke-width="1.3"/>
<rect x="270.68" y="434.56" width="5.30" height="5.30" fill="none" stroke="#48a830" stroke-width="1.3"/>
<rect x="296.73" y="357.84" width="5.30" height="5.30" fill="none" stroke="#48a830" stroke-width="1.3"/>
<rect x="322.78" y="343.34" width="5.30" height="5.30" fill="none" stroke="#48a830" stroke-width="1.3"/>
<path d="M64.92,394.70L67.92,400.30L61.92,400.30Z" fill="#0000ff"/>
<path d="M90.97,395.15L93.97,400.75L87.97,400.75Z" fill="#0000ff"/>
<path d="M117.03,393.12L120.03,398.72L114.03,398.72Z" fill="#0000ff"/>
<path d="M143.07,394.51L146.07,400.11L140.07,400.11Z" fill="#0000ff"/>
<path d="M169.12,390.79L172.12,396.39L166.12,396.39Z" fill="#0000ff"/>
<path d="M195.18,393.68L198.18,399.28L192.18,399.28Z" fill="#0000ff"/>
<path d="M221.23,400.07L224.23,405.67L218.23,405.67Z" fill="#0000ff"/>
<path d="M247.28,387.18L250.28,392.78L244.28,392.78Z" fill="#0000ff"/>
<path d="M273.32,412.59L276.32,418.19L270.32,418.19Z" fill="#0000ff"/>
<path d="M299.38,391.41L302.38,397.01L296.38,397.01Z" fill="#0000ff"/>
<path d="M64.92,400.90L67.92,395.30L61.92,395.30Z" fill="#1898c0"/>
<path d="M90.97,401.35L93.97,395.75L87.97,395.75Z" fill="#1898c0"/>
<path d="M117.03,400.25L120.03,394.65L114.03,394.65Z" fill="#1898c0"/>
<path d="M143.07,400.71L146.07,395.11L140.07,395.11Z" fill="#1898c0"/>
<path d="M169.12,399.64L172.12,394.04L166.12,394.04Z" fill="#1898c0"/>
<path d="M195.18,394.64L198.18,389.04L192.18,389.04Z" fill="#1898c0"/>
<path d="M221.23,396.83L224.23,391.23L218.23,391.23Z" fill="#1898c0"/>
<path d="M247.28,385.48L250.28,379.88L244.28,379.88Z" fill="#1898c0"/>
<path d="M273.32,384.37L276.32,378.77L270.32,378.77Z" fill="#1898c0"/>
<path d="M299.38,352.03L302.38,346.43L296.38,346.43Z" fill="#1898c0"/>
<path d="M64.92,394.70L66.92,397.80L64.92,400.90L62.92,397.80Z" fill="#ff0000"/>
<path d="M90.97,394.70L92.97,397.80L90.97,400.90L88.97,397.80Z" fill="#ff0000"/>
<path d="M117.03,396.02L119.03,399.12L117.03,402.22L115.03,399.12Z" fill="#ff0000"/>
<path d="M143.07,396.03L145.07,399.13L143.07,402.23L141.07,399.13Z" fill="#ff0000"/>
<path d="M169.12,394.41L171.12,397.51L169.12,400.61L167.12,397.51Z" fill="#ff0000"/>
<path d="M195.18,394.29L197.18,397.39L195.18,400.49L193.18,397.39Z" fill="#ff0000"/>
<path d="M221.23,404.16L223.23,407.26L221.23,410.36L219.23,407.26Z" fill="#ff0000"/>
<path d="M247.28,398.00L249.28,401.10L247.28,404.20L245.28,401.10Z" fill="#ff0000"/>
<path d="M273.32,411.37L275.32,414.47L273.32,417.57L271.32,414.47Z" fill="#ff0000"/>
</svg>
<g stroke="#000" stroke-width="1" fill="none">
<line x1="45.5" y1="17.5" x2="371.1" y2="17.5"/>
<line x1="45.5" y1="317.5" x2="371.1" y2="317.5"/>
<line x1="45.5" y1="478.1" x2="371.1" y2="478.1" stroke-width="1.6"/>
<line x1="45.5" y1="17.0" x2="45.5" y2="478.65"/>
<line x1="371.1" y1="17.0" x2="371.1" y2="478.65" stroke-width="1.3"/>
<line x1="45.50" y1="317.50" x2="56.50" y2="317.50"/>
<line x1="371.10" y1="317.50" x2="360.10" y2="317.50"/>
<line x1="45.50" y1="306.02" x2="51.10" y2="306.02"/>
<line x1="371.10" y1="306.02" x2="365.50" y2="306.02"/>
<line x1="45.50" y1="294.54" x2="51.10" y2="294.54"/>
<line x1="371.10" y1="294.54" x2="365.50" y2="294.54"/>
<line x1="45.50" y1="283.06" x2="51.10" y2="283.06"/>
<line x1="371.10" y1="283.06" x2="365.50" y2="283.06"/>
<line x1="45.50" y1="271.58" x2="51.10" y2="271.58"/>
<line x1="371.10" y1="271.58" x2="365.50" y2="271.58"/>
<line x1="45.50" y1="260.10" x2="56.50" y2="260.10"/>
<line x1="371.10" y1="260.10" x2="360.10" y2="260.10"/>
<line x1="45.50" y1="248.62" x2="51.10" y2="248.62"/>
<line x1="371.10" y1="248.62" x2="365.50" y2="248.62"/>
<line x1="45.50" y1="237.14" x2="51.10" y2="237.14"/>
<line x1="371.10" y1="237.14" x2="365.50" y2="237.14"/>
<line x1="45.50" y1="225.66" x2="51.10" y2="225.66"/>
<line x1="371.10" y1="225.66" x2="365.50" y2="225.66"/>
<line x1="45.50" y1="214.18" x2="51.10" y2="214.18"/>
<line x1="371.10" y1="214.18" x2="365.50" y2="214.18"/>
<line x1="45.50" y1="202.70" x2="56.50" y2="202.70"/>
<line x1="371.10" y1="202.70" x2="360.10" y2="202.70"/>
<line x1="45.50" y1="191.22" x2="51.10" y2="191.22"/>
<line x1="371.10" y1="191.22" x2="365.50" y2="191.22"/>
<line x1="45.50" y1="179.74" x2="51.10" y2="179.74"/>
<line x1="371.10" y1="179.74" x2="365.50" y2="179.74"/>
<line x1="45.50" y1="168.26" x2="51.10" y2="168.26"/>
<line x1="371.10" y1="168.26" x2="365.50" y2="168.26"/>
<line x1="45.50" y1="156.78" x2="51.10" y2="156.78"/>
<line x1="371.10" y1="156.78" x2="365.50" y2="156.78"/>
<line x1="45.50" y1="145.30" x2="56.50" y2="145.30"/>
<line x1="371.10" y1="145.30" x2="360.10" y2="145.30"/>
<line x1="45.50" y1="133.82" x2="51.10" y2="133.82"/>
<line x1="371.10" y1="133.82" x2="365.50" y2="133.82"/>
<line x1="45.50" y1="122.34" x2="51.10" y2="122.34"/>
<line x1="371.10" y1="122.34" x2="365.50" y2="122.34"/>
<line x1="45.50" y1="110.86" x2="51.10" y2="110.86"/>
<line x1="371.10" y1="110.86" x2="365.50" y2="110.86"/>
<line x1="45.50" y1="99.38" x2="51.10" y2="99.38"/>
<line x1="371.10" y1="99.38" x2="365.50" y2="99.38"/>
<line x1="45.50" y1="87.90" x2="56.50" y2="87.90"/>
<line x1="371.10" y1="87.90" x2="360.10" y2="87.90"/>
<line x1="45.50" y1="76.42" x2="51.10" y2="76.42"/>
<line x1="371.10" y1="76.42" x2="365.50" y2="76.42"/>
<line x1="45.50" y1="64.94" x2="51.10" y2="64.94"/>
<line x1="371.10" y1="64.94" x2="365.50" y2="64.94"/>
<line x1="45.50" y1="53.46" x2="51.10" y2="53.46"/>
<line x1="371.10" y1="53.46" x2="365.50" y2="53.46"/>
<line x1="45.50" y1="41.98" x2="51.10" y2="41.98"/>
<line x1="371.10" y1="41.98" x2="365.50" y2="41.98"/>
<line x1="45.50" y1="30.50" x2="56.50" y2="30.50"/>
<line x1="371.10" y1="30.50" x2="360.10" y2="30.50"/>
<line x1="45.50" y1="19.02" x2="51.10" y2="19.02"/>
<line x1="371.10" y1="19.02" x2="365.50" y2="19.02"/>
<line x1="51.90" y1="317.50" x2="51.90" y2="309.40" stroke-width="1.2"/>
<line x1="51.90" y1="17.50" x2="51.90" y2="25.60" stroke-width="1.2"/>
<line x1="77.95" y1="317.50" x2="77.95" y2="313.20" stroke-width="1.2"/>
<line x1="77.95" y1="17.50" x2="77.95" y2="21.80" stroke-width="1.2"/>
<line x1="104.00" y1="317.50" x2="104.00" y2="313.20" stroke-width="1.2"/>
<line x1="104.00" y1="17.50" x2="104.00" y2="21.80" stroke-width="1.2"/>
<line x1="130.05" y1="317.50" x2="130.05" y2="313.20" stroke-width="1.2"/>
<line x1="130.05" y1="17.50" x2="130.05" y2="21.80" stroke-width="1.2"/>
<line x1="156.10" y1="317.50" x2="156.10" y2="309.40" stroke-width="1.2"/>
<line x1="156.10" y1="17.50" x2="156.10" y2="25.60" stroke-width="1.2"/>
<line x1="182.15" y1="317.50" x2="182.15" y2="313.20" stroke-width="1.2"/>
<line x1="182.15" y1="17.50" x2="182.15" y2="21.80" stroke-width="1.2"/>
<line x1="208.20" y1="317.50" x2="208.20" y2="313.20" stroke-width="1.2"/>
<line x1="208.20" y1="17.50" x2="208.20" y2="21.80" stroke-width="1.2"/>
<line x1="234.25" y1="317.50" x2="234.25" y2="313.20" stroke-width="1.2"/>
<line x1="234.25" y1="17.50" x2="234.25" y2="21.80" stroke-width="1.2"/>
<line x1="260.30" y1="317.50" x2="260.30" y2="309.40" stroke-width="1.2"/>
<line x1="260.30" y1="17.50" x2="260.30" y2="25.60" stroke-width="1.2"/>
<line x1="286.35" y1="317.50" x2="286.35" y2="313.20" stroke-width="1.2"/>
<line x1="286.35" y1="17.50" x2="286.35" y2="21.80" stroke-width="1.2"/>
<line x1="312.40" y1="317.50" x2="312.40" y2="313.20" stroke-width="1.2"/>
<line x1="312.40" y1="17.50" x2="312.40" y2="21.80" stroke-width="1.2"/>
<line x1="338.45" y1="317.50" x2="338.45" y2="313.20" stroke-width="1.2"/>
<line x1="338.45" y1="17.50" x2="338.45" y2="21.80" stroke-width="1.2"/>
<line x1="364.50" y1="317.50" x2="364.50" y2="309.40" stroke-width="1.2"/>
<line x1="364.50" y1="17.50" x2="364.50" y2="25.60" stroke-width="1.2"/>
<line x1="51.90" y1="478.00" x2="51.90" y2="473.00" stroke-width="1.2"/>
<line x1="51.90" y1="317.50" x2="51.90" y2="322.50" stroke-width="1.2"/>
<line x1="77.95" y1="478.00" x2="77.95" y2="475.40" stroke-width="1.2"/>
<line x1="77.95" y1="317.50" x2="77.95" y2="320.10" stroke-width="1.2"/>
<line x1="104.00" y1="478.00" x2="104.00" y2="475.40" stroke-width="1.2"/>
<line x1="104.00" y1="317.50" x2="104.00" y2="320.10" stroke-width="1.2"/>
<line x1="130.05" y1="478.00" x2="130.05" y2="475.40" stroke-width="1.2"/>
<line x1="130.05" y1="317.50" x2="130.05" y2="320.10" stroke-width="1.2"/>
<line x1="156.10" y1="478.00" x2="156.10" y2="473.00" stroke-width="1.2"/>
<line x1="156.10" y1="317.50" x2="156.10" y2="322.50" stroke-width="1.2"/>
<line x1="182.15" y1="478.00" x2="182.15" y2="475.40" stroke-width="1.2"/>
<line x1="182.15" y1="317.50" x2="182.15" y2="320.10" stroke-width="1.2"/>
<line x1="208.20" y1="478.00" x2="208.20" y2="475.40" stroke-width="1.2"/>
<line x1="208.20" y1="317.50" x2="208.20" y2="320.10" stroke-width="1.2"/>
<line x1="234.25" y1="478.00" x2="234.25" y2="475.40" stroke-width="1.2"/>
<line x1="234.25" y1="317.50" x2="234.25" y2="320.10" stroke-width="1.2"/>
<line x1="260.30" y1="478.00" x2="260.30" y2="473.00" stroke-width="1.2"/>
<line x1="260.30" y1="317.50" x2="260.30" y2="322.50" stroke-width="1.2"/>
<line x1="286.35" y1="478.00" x2="286.35" y2="475.40" stroke-width="1.2"/>
<line x1="286.35" y1="317.50" x2="286.35" y2="320.10" stroke-width="1.2"/>
<line x1="312.40" y1="478.00" x2="312.40" y2="475.40" stroke-width="1.2"/>
<line x1="312.40" y1="317.50" x2="312.40" y2="320.10" stroke-width="1.2"/>
<line x1="338.45" y1="478.00" x2="338.45" y2="475.40" stroke-width="1.2"/>
<line x1="338.45" y1="317.50" x2="338.45" y2="320.10" stroke-width="1.2"/>
<line x1="364.50" y1="478.00" x2="364.50" y2="473.00" stroke-width="1.2"/>
<line x1="364.50" y1="317.50" x2="364.50" y2="322.50" stroke-width="1.2"/>
<line x1="45.50" y1="458.49" x2="52.30" y2="458.49"/>
<line x1="371.10" y1="458.49" x2="364.30" y2="458.49"/>
<line x1="45.50" y1="442.52" x2="50.10" y2="442.52"/>
<line x1="371.10" y1="442.52" x2="366.50" y2="442.52"/>
<line x1="45.50" y1="429.03" x2="50.10" y2="429.03"/>
<line x1="371.10" y1="429.03" x2="366.50" y2="429.03"/>
<line x1="45.50" y1="417.34" x2="50.10" y2="417.34"/>
<line x1="371.10" y1="417.34" x2="366.50" y2="417.34"/>
<line x1="45.50" y1="407.02" x2="50.10" y2="407.02"/>
<line x1="371.10" y1="407.02" x2="366.50" y2="407.02"/>
<line x1="45.50" y1="397.80" x2="52.30" y2="397.80"/>
<line x1="371.10" y1="397.80" x2="364.30" y2="397.80"/>
<line x1="45.50" y1="389.46" x2="50.10" y2="389.46"/>
<line x1="371.10" y1="389.46" x2="366.50" y2="389.46"/>
<line x1="45.50" y1="381.84" x2="50.10" y2="381.84"/>
<line x1="371.10" y1="381.84" x2="366.50" y2="381.84"/>
<line x1="45.50" y1="374.83" x2="50.10" y2="374.83"/>
<line x1="371.10" y1="374.83" x2="366.50" y2="374.83"/>
<line x1="45.50" y1="368.34" x2="50.10" y2="368.34"/>
<line x1="371.10" y1="368.34" x2="366.50" y2="368.34"/>
<line x1="45.50" y1="362.30" x2="52.30" y2="362.30"/>
<line x1="371.10" y1="362.30" x2="364.30" y2="362.30"/>
<line x1="45.50" y1="356.65" x2="50.10" y2="356.65"/>
<line x1="371.10" y1="356.65" x2="366.50" y2="356.65"/>
<line x1="45.50" y1="351.34" x2="50.10" y2="351.34"/>
<line x1="371.10" y1="351.34" x2="366.50" y2="351.34"/>
<line x1="45.50" y1="346.34" x2="50.10" y2="346.34"/>
<line x1="371.10" y1="346.34" x2="366.50" y2="346.34"/>
<line x1="45.50" y1="341.60" x2="50.10" y2="341.60"/>
<line x1="371.10" y1="341.60" x2="366.50" y2="341.60"/>
<line x1="45.50" y1="337.11" x2="52.30" y2="337.11"/>
<line x1="371.10" y1="337.11" x2="364.30" y2="337.11"/>
<line x1="45.50" y1="332.84" x2="50.10" y2="332.84"/>
<line x1="371.10" y1="332.84" x2="366.50" y2="332.84"/>
<line x1="45.50" y1="328.77" x2="50.10" y2="328.77"/>
<line x1="371.10" y1="328.77" x2="366.50" y2="328.77"/>
<line x1="45.50" y1="324.88" x2="50.10" y2="324.88"/>
<line x1="371.10" y1="324.88" x2="366.50" y2="324.88"/>
<line x1="45.50" y1="321.15" x2="50.10" y2="321.15"/>
<line x1="371.10" y1="321.15" x2="366.50" y2="321.15"/>
<line x1="45.50" y1="317.58" x2="50.10" y2="317.58"/>
<line x1="371.10" y1="317.58" x2="366.50" y2="317.58"/>
</g>
<defs><clipPath id="c0"><rect x="0" y="0" width="393" height="317.9"/></clipPath></defs>
<g font-size="11" text-anchor="end">
<text x="41" y="264.00">0.5</text>
<text x="41" y="206.60">1</text>
<text x="41" y="149.20">1.5</text>
<text x="41" y="91.80">2</text>
<text x="41" y="34.40">2.5</text>
<text x="41" y="322.40" clip-path="url(#c0)">0</text>
</g>
<g font-size="11.5">
<text x="38.5" y="462.29" text-anchor="end">0.5</text>
<text x="373.6" y="462.29">0.5</text>
<text x="38.5" y="401.60" text-anchor="end">1</text>
<text x="373.6" y="401.60">1</text>
<text x="38.5" y="340.91" text-anchor="end">2</text>
<text x="373.6" y="340.91">2</text>
</g>
<g font-size="12" text-anchor="middle">
<text x="51.90" y="488.9">0</text>
<text x="156.10" y="488.9">2</text>
<text x="260.30" y="488.9">4</text>
<text x="364.50" y="488.9">6</text>
</g>
<g font-size="12"><text x="352.9" y="504">|</text><text x="355.5" y="504" textLength="6.9" lengthAdjust="spacingAndGlyphs">Δ</text><text x="362.4" y="504">y</text><text x="368.9" y="504">|</text></g>
<text transform="translate(16.0,81.2) rotate(-90)" font-size="12.3" textLength="64.4" lengthAdjust="spacingAndGlyphs">Gap fraction</text>
<text transform="translate(17.9,427.2) rotate(-90)" font-size="9.0">Ratio to ATLAS</text>
<text transform="translate(380.0,127.0) rotate(-90)" font-size="9.35" fill="#777777">Rivet 4.1.0, ≥ 100k events</text>
<text transform="translate(380.6,313.6) rotate(-90)" font-size="9.35" fill="#777777">mcplots.cern.ch [arXiv:2401.10621]</text>
<text x="165" y="301.8" font-size="8.04" fill="#aaaaaa">(ATLAS_2011_I917526)</text>
<g font-size="12">
<text x="62.6" y="43">Gap fraction vs </text>
<text x="145.1" y="43">|</text><text x="147.0" y="43" textLength="5.9" lengthAdjust="spacingAndGlyphs">Δ</text><text x="153.1" y="43">y</text><text x="160.1" y="43">|</text>
<text x="166.4" y="43">for 240&lt;#</text>
<text x="216.3" y="43">P</text>
<text x="224.2" y="46.5" font-size="7.5">T</text>
<text x="229.5" y="43">&lt;270, Fwd/Bwd Q</text>
<text x="324.2" y="48" font-size="7.5">0</text>
<text x="329" y="43">=#</text>
<text x="343.3" y="43">P</text>
<text x="349.4" y="46.5" font-size="7.5">T</text>
</g>
<line x1="216.3" y1="33.5" x2="229" y2="33.5" stroke="#000" stroke-width="1"/>
<line x1="342" y1="33.5" x2="355" y2="33.5" stroke="#000" stroke-width="1"/>
<rect x="73.70" y="59.60" width="5.60" height="5.60" fill="#000"/>
<text x="94.6" y="64.70" font-size="9.7" textLength="28.77" lengthAdjust="spacingAndGlyphs">ATLAS</text>
<line x1="64" y1="75.45" x2="89" y2="75.45" stroke="#b86830" stroke-width="1.05" stroke-dasharray="2.3,2.3"/>
<circle cx="76.50" cy="75.45" r="2.65" fill="none" stroke="#b86830" stroke-width="1.15"/>
<text x="94.6" y="77.75" font-size="9.7" textLength="93.57" lengthAdjust="spacingAndGlyphs">Herwig++ 2.7.1 default</text>
<line x1="64" y1="88.50" x2="89" y2="88.50" stroke="#48a830" stroke-width="1.05" stroke-dasharray="2.3,2.3"/>
<rect x="73.85" y="85.85" width="5.30" height="5.30" fill="none" stroke="#48a830" stroke-width="1.3"/>
<text x="94.6" y="90.80" font-size="9.7" textLength="82.71" lengthAdjust="spacingAndGlyphs">Herwig 7.2.1 default</text>
<line x1="64" y1="101.55" x2="89" y2="101.55" stroke="#0000ff" stroke-width="1.05"/>
<path d="M76.50,98.45L79.50,104.05L73.50,104.05Z" fill="#0000ff"/>
<text x="94.6" y="103.85" font-size="9.7" textLength="82.20" lengthAdjust="spacingAndGlyphs">Pythia 8.315 default</text>
<line x1="64" y1="114.60" x2="89" y2="114.60" stroke="#1898c0" stroke-width="1.05" stroke-dasharray="3.8,1.9,1,1.9"/>
<path d="M76.50,117.70L79.50,112.10L73.50,112.10Z" fill="#1898c0"/>
<text x="94.6" y="116.90" font-size="9.7" textLength="109.08" lengthAdjust="spacingAndGlyphs">Pythia 8.315 vincia-default</text>
<line x1="64" y1="127.65" x2="89" y2="127.65" stroke="#ff0000" stroke-width="1.05" stroke-dasharray="1,0.8"/>
<path d="M76.50,124.55L78.50,127.65L76.50,130.75L74.50,127.65Z" fill="#ff0000"/>
<text x="94.6" y="129.95" font-size="9.7" textLength="83.76" lengthAdjust="spacingAndGlyphs">Sherpa 2.2.9 default</text>
</svg></body></html>
